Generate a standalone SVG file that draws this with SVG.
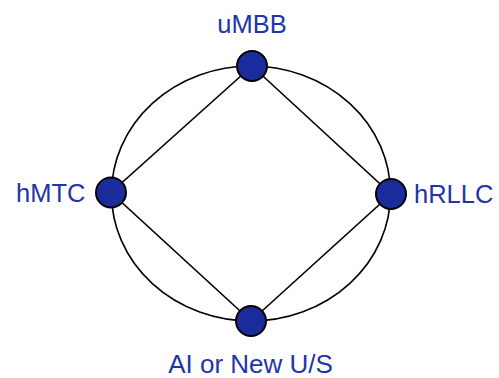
<svg xmlns="http://www.w3.org/2000/svg" width="499" height="378" viewBox="0 0 499 378">
  <style>
    .edge { fill: none; stroke: #000; stroke-width: 1.6; }
    .node { fill: #1a2c9c; stroke: #000; stroke-width: 2; }
    .label { font-family: "Liberation Sans", Arial, sans-serif; font-size: 25.5px; fill: #2235a8; }
  </style>
  <rect width="499" height="378" fill="#fff"/>
  <g id="connectors">
    <ellipse class="edge" cx="251" cy="193.5" rx="139.5" ry="127.5"/>
    <polygon class="edge" points="252,66 391,194 251,321 111,192.5"/>
  </g>
  <g id="uMBB">
    <circle class="node" cx="252" cy="66" r="15"/>
    <text class="label" x="252" y="33" text-anchor="middle">uMBB</text>
  </g>
  <g id="hMTC">
    <circle class="node" cx="111" cy="192.5" r="15"/>
    <text class="label" x="16" y="202">hMTC</text>
  </g>
  <g id="hRLLC">
    <circle class="node" cx="391" cy="194" r="15"/>
    <text class="label" x="414" y="203">hRLLC</text>
  </g>
  <g id="ai">
    <circle class="node" cx="251" cy="321" r="15"/>
    <text class="label" x="250.5" y="372.5" text-anchor="middle" style="font-size:26px">AI or New U/S</text>
  </g>
</svg>
